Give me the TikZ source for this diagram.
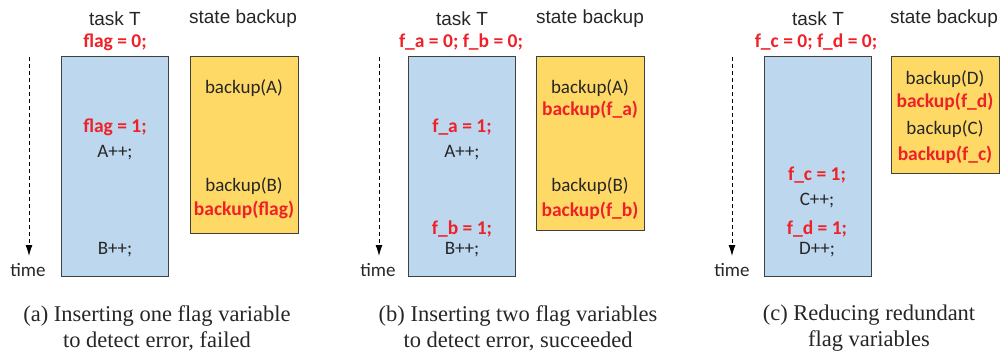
\documentclass[tikz,border=0pt]{standalone}
\usepackage{fontspec}
\setmainfont{Liberation Serif}
\newfontfamily\calib{Carlito}
\newfontfamily\arial{Liberation Sans}
\usepackage{tikz}
\usetikzlibrary{arrows.meta}

\definecolor{taskblue}{HTML}{BDD7EE}
\definecolor{bakgold}{HTML}{FFD966}
\definecolor{flagred}{HTML}{EE2128}

\begin{document}
\begin{tikzpicture}[x=1pt,y=-1pt,
  taskbox/.style={draw=black!75,line width=0.9pt,fill=taskblue,anchor=north west,
    minimum width=107pt,minimum height=220pt,inner sep=0pt},
  bakbox/.style={draw=black!75,line width=0.9pt,fill=bakgold,anchor=north west,
    minimum width=108pt,inner sep=0pt},
  head/.style={font=\arial\fontsize{19}{22}\selectfont,text=black!85,inner sep=0pt},
  code/.style={font=\calib\fontsize{19}{22}\selectfont,text=black!85,inner sep=0pt},
  flag/.style={font=\calib\bfseries\fontsize{19.5}{22}\selectfont,text=flagred,inner sep=0pt},
  captext/.style={font=\fontsize{22.5}{26}\selectfont,text=black!85,align=center,inner sep=0pt},
  timeline/.style={dashed,dash pattern=on 4pt off 3pt,line width=0.9pt,
    -{Latex[length=11pt,width=7pt]}}]
  \useasboundingbox (0,0) rectangle (1003,358);

  % (a) one flag variable
  \node[taskbox] (taskA) at (61,56) {};
  \node[bakbox,minimum height=177pt] (bakA) at (190,56) {};
  \node[head] (headTA) at (115,19) {task T};
  \node[head] (headSA) at (243,19) {state backup};
  \node[flag] (initA) at (115,42) {flag = 0;};
  \node[code] (bkA) at (244,88) {backup(A)};
  \node[flag] (setA) at (115,127) {flag = 1;};
  \node[code] (incA) at (115,153) {A++;};
  \node[code] (bkB) at (244,186) {backup(B)};
  \node[flag] (bkflag) at (244,210) {backup(flag)};
  \node[code] (incB) at (115,250) {B++;};
  \coordinate (tA0) at (29,57);
  \coordinate (tA1) at (29,256);
  \draw[timeline] (tA0) -- (tA1);
  \node[code] (timeA) at (28,270) {time};
  \node[captext] (capA) at (157,328) {(a) Inserting one flag variable\\to detect error, failed};

  % (b) two flag variables
  \node[taskbox] (taskB) at (408,56) {};
  \node[bakbox,minimum height=174pt] (bakB) at (536,56) {};
  \node[head] (headTB) at (462,19) {task T};
  \node[head] (headSB) at (590,19) {state backup};
  \node[flag] (initB) at (461,42) {f\_a = 0; f\_b = 0;};
  \node[code] (bkA2) at (590,88) {backup(A)};
  \node[flag] (bkfa) at (590,110) {backup(f\_a)};
  \node[flag] (setfa) at (462,127) {f\_a = 1;};
  \node[code] (incA2) at (462,153) {A++;};
  \node[code] (bkB2) at (590,186) {backup(B)};
  \node[flag] (bkfb) at (590,211) {backup(f\_b)};
  \node[flag] (setfb) at (462,229) {f\_b = 1;};
  \node[code] (incB2) at (462,250) {B++;};
  \coordinate (tB0) at (379,57);
  \coordinate (tB1) at (379,256);
  \draw[timeline] (tB0) -- (tB1);
  \node[code] (timeB) at (378,270) {time};
  \node[captext] (capB) at (518,328) {(b) Inserting two flag variables\\to detect error, succeeded};

  % (c) fewer flag variables
  \node[taskbox] (taskC) at (764,56) {};
  \node[bakbox,minimum height=117pt] (bakC) at (891,56) {};
  \node[head] (headTC) at (818,19) {task T};
  \node[head] (headSC) at (944,19) {state backup};
  \node[flag] (initC) at (816,42) {f\_c = 0; f\_d = 0;};
  \node[code] (bkD) at (945,79) {backup(D)};
  \node[flag] (bkfd) at (945,102) {backup(f\_d)};
  \node[code] (bkC) at (945,129) {backup(C)};
  \node[flag] (bkfc) at (945,155) {backup(f\_c)};
  \node[flag] (setfc) at (817,175) {f\_c = 1;};
  \node[code] (incC) at (817,201) {C++;};
  \node[flag] (setfd) at (817,229) {f\_d = 1;};
  \node[code] (incD) at (817,250) {D++;};
  \coordinate (tC0) at (732,57);
  \coordinate (tC1) at (732,256);
  \draw[timeline] (tC0) -- (tC1);
  \node[code] (timeC) at (732,270) {time};
  \node[captext] (capC) at (869,328) {(c) Reducing redundant\\flag variables};
\end{tikzpicture}
\end{document}
